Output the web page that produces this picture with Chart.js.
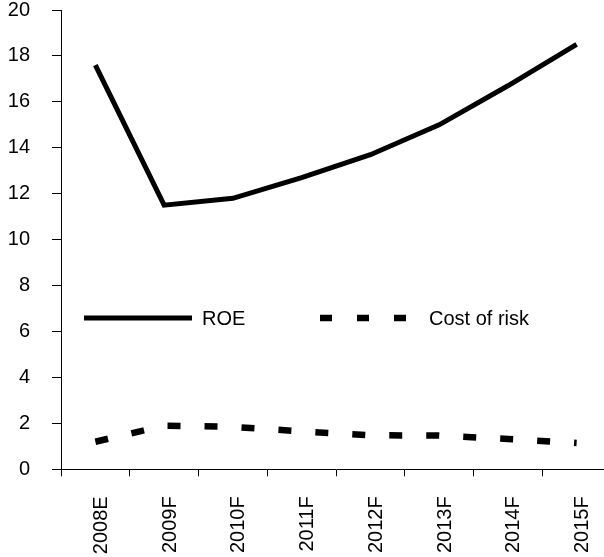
<!DOCTYPE html>
<html>
<head>
<meta charset="utf-8">
<script src="https://cdn.jsdelivr.net/npm/chart.js@4/dist/chart.umd.min.js"></script>
<style>
  html, body { margin: 0; padding: 0; background: #fff; overflow: hidden; width: 604px; height: 557px; }
  #wrap { position: absolute; left: 0; top: 0; width: 611px; height: 557px; }
</style>
</head>
<body>
<div id="wrap"><canvas id="c" width="611" height="557"></canvas></div>
<script>
const categories = ['2008E', '2009F', '2010F', '2011F', '2012F', '2013F', '2014F', '2015F'];
const roe = [17.6, 11.5, 11.8, 12.7, 13.7, 15.0, 16.7, 18.5];
const costOfRisk = [1.2, 1.9, 1.85, 1.65, 1.48, 1.47, 1.32, 1.15];
const seriesNames = ['ROE', 'Cost of risk'];
const yTicks = [0, 2, 4, 6, 8, 10, 12, 14, 16, 18, 20];

const FONT = '"Liberation Sans", Arial, sans-serif';

const legendPlugin = {
  id: 'inlineLegend',
  afterDatasetsDraw(chart) {
    const ctx = chart.ctx;
    const y = 318;
    ctx.save();
    ctx.strokeStyle = '#000';
    ctx.lineCap = 'butt';
    ctx.lineWidth = 5;
    ctx.setLineDash([]);
    ctx.beginPath();
    ctx.moveTo(84, y);
    ctx.lineTo(192, y);
    ctx.stroke();
    ctx.lineWidth = 6.5;
    ctx.setLineDash([12, 25]);
    ctx.beginPath();
    ctx.moveTo(320, y);
    ctx.lineTo(407, y);
    ctx.stroke();
    ctx.setLineDash([]);
    ctx.fillStyle = '#000';
    ctx.font = '20px ' + FONT;
    ctx.textBaseline = 'middle';
    ctx.textAlign = 'left';
    ctx.fillText(chart.data.datasets[0].label, 202, y + 1);
    ctx.fillText(chart.data.datasets[1].label, 429, y + 1);
    ctx.restore();
  }
};

new Chart(document.getElementById('c'), {
  type: 'line',
  data: {
    labels: categories,
    datasets: [
      {
        label: seriesNames[0],
        data: roe,
        borderColor: '#000',
        borderWidth: 5,
        borderJoinStyle: 'miter',
        borderCapStyle: 'butt',
        pointRadius: 0,
        tension: 0,
        fill: false
      },
      {
        label: seriesNames[1],
        data: costOfRisk,
        borderColor: '#000',
        borderWidth: 6.5,
        borderDash: [13, 24],
        borderCapStyle: 'butt',
        pointRadius: 0,
        tension: 0,
        fill: false
      }
    ]
  },
  options: {
    responsive: false,
    animation: false,
    layout: { padding: { top: 10, right: 0, left: 0, bottom: 0 } },
    plugins: {
      legend: { display: false },
      tooltip: { enabled: false }
    },
    scales: {
      x: {
        offset: true,
        grid: {
          offset: true,
          drawOnChartArea: false,
          drawTicks: true,
          tickLength: 7,
          color: '#000',
          lineWidth: 1
        },
        border: { display: true, color: '#000', width: 1 },
        ticks: {
          color: '#000',
          font: { size: 20, family: FONT },
          minRotation: 90,
          maxRotation: 90,
          padding: 20,
          labelOffset: 6,
          autoSkip: false
        },
        afterFit(scale) {
          scale.height = 557 - 469.3;
          scale.paddingLeft = 0;
          scale.paddingRight = 0;
        }
      },
      y: {
        min: 0,
        max: 20,
        afterBuildTicks(scale) { scale.ticks = yTicks.map(v => ({ value: v })); },
        grid: {
          drawOnChartArea: false,
          drawTicks: true,
          tickLength: 9,
          color: '#000',
          lineWidth: 1
        },
        border: { display: true, color: '#000', width: 1 },
        ticks: {
          color: '#000',
          font: { size: 20, family: FONT },
          padding: 22
        },
        afterFit(scale) {
          scale.width = 61;
          scale.paddingTop = 0;
          scale.paddingBottom = 0;
        }
      }
    }
  },
  plugins: [legendPlugin]
});
</script>
</body>
</html>
